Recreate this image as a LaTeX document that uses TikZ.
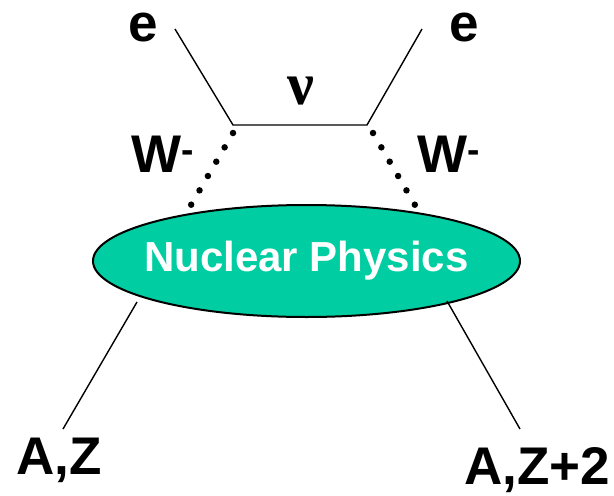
\documentclass[tikz,border=0pt]{standalone}
\usepackage{fontspec}
\setmainfont{Liberation Sans}
\newfontfamily\greekfont{Liberation Serif}
\usepackage{xcolor}
\usetikzlibrary{shapes.geometric,positioning}

\definecolor{nucgreen}{RGB}{0,206,162}

\begin{document}
\begin{tikzpicture}[x=1pt, y=-1pt,
		lbl/.style={inner sep=0pt, anchor=base, font=\fontsize{53}{55}\selectfont\bfseries},
		fermion/.style={line width=1.4pt},
		boson/.style={line width=6.5pt, line cap=round, dash pattern=on 0pt off 16.6pt},
		blob/.style={ellipse, draw, line width=2pt, fill=nucgreen,
			minimum width=427pt, minimum height=112pt, inner sep=0pt},
		blobtext/.style={inner sep=0pt, text=white, font=\fontsize{42}{44}\selectfont\bfseries}]
	\useasboundingbox (0,0) rectangle (614,496);

	% Lepton line with the neutrino exchange
	\coordinate (eLend) at (175,29);
	\coordinate (eRend) at (422,29);
	\coordinate (vL) at (233,125);
	\coordinate (vR) at (367,125);
	\node[lbl] (eL) at (143,41) {e};
	\node[lbl] (eR) at (464,41) {e};
	\node[inner sep=0pt, anchor=base, font=\fontsize{60}{62}\selectfont\greekfont\bfseries] (nu) at (301,104) {ν};
	\draw[fermion] (eLend) -- (vL) -- (vR) -- (eRend);

	% W bosons
	\coordinate (wLtop) at (233,133);
	\coordinate (wLbot) at (191,205);
	\coordinate (wRtop) at (373,133);
	\coordinate (wRbot) at (415,205);
	\draw[boson] (wLtop) -- (wLbot);
	\draw[boson] (wRtop) -- (wRbot);
	\node[lbl, anchor=base west] (WL) at (131,172) {W\textsuperscript{-}};
	\node[lbl, anchor=base west] (WR) at (417,172) {W\textsuperscript{-}};

	% Nucleus
	\node[blob] (np) at (306.5,261) {};
	\node[blobtext] (nptext) at (np) {Nuclear Physics};

	% Initial and final nuclei
	\coordinate (nLtop) at (137,302);
	\coordinate (nLbot) at (63,429);
	\coordinate (nRtop) at (447,301);
	\coordinate (nRbot) at (520,429);
	\draw[fermion] (nLtop) -- (nLbot);
	\draw[fermion] (nRtop) -- (nRbot);
	\node[lbl, anchor=base west] (AZ) at (16,474) {A,Z};
	\node[lbl, anchor=base west] (AZ2) at (464,484) {A,Z+2};
\end{tikzpicture}
\end{document}
